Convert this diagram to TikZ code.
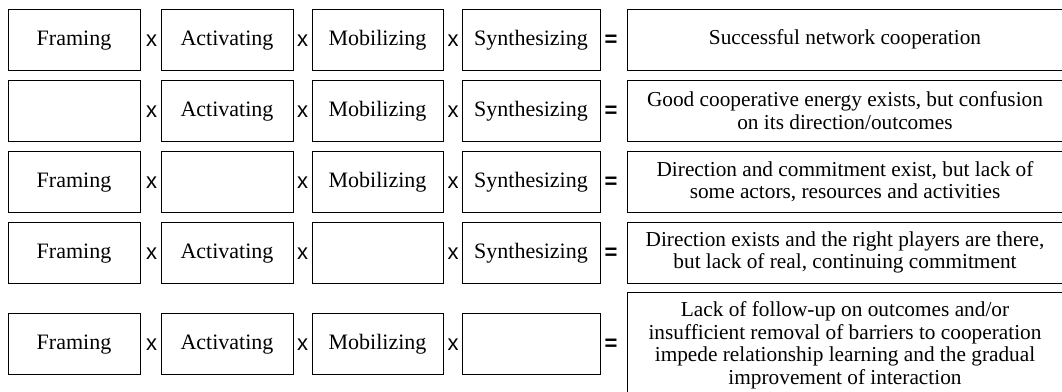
\documentclass[tikz,border=0pt]{standalone}
\usepackage{fontspec}
\setmainfont{Liberation Serif}
\newfontfamily\symfont{Liberation Sans}
\begin{document}
\begin{tikzpicture}[x=1pt,y=-1pt,
  every node/.style={inner sep=0pt, outer sep=0pt},
  factor/.style={draw=black, line width=1pt, minimum height=61pt,
    text height=15pt, text depth=3pt,
    font=\fontsize{22}{24}\selectfont},
  outcome/.style={draw=black, line width=1pt, minimum width=436pt,
    align=center, font=\fontsize{21.3}{22.5}\selectfont},
  op/.style={anchor=base, font=\symfont\fontsize{22}{24}\selectfont},
  eqsign/.style={op, font=\symfont\bfseries\fontsize{22}{24}\selectfont}]
\useasboundingbox (0,0) rectangle (1062,391);

% column centres and widths of the four factor boxes
\def\colA{74}\def\colB{227}\def\colC{377.5}\def\colD{531}
\def\widA{132pt}\def\widB{132pt}\def\widC{131pt}\def\widD{138pt}

% row 1
\node[factor, minimum width=\widA] (f1) at (\colA,39.5) {Framing};
\node[factor, minimum width=\widB] (a1) at (\colB,39.5) {Activating};
\node[factor, minimum width=\widC] (m1) at (\colC,39.5) {Mobilizing};
\node[factor, minimum width=\widD] (s1) at (\colD,39.5) {Synthesizing};
\node[outcome, minimum height=61pt] (r1) at (845,39.5) {Successful network cooperation};

% row 2
\node[factor, minimum width=\widA] (f2) at (\colA,110.5) {};
\node[factor, minimum width=\widB] (a2) at (\colB,110.5) {Activating};
\node[factor, minimum width=\widC] (m2) at (\colC,110.5) {Mobilizing};
\node[factor, minimum width=\widD] (s2) at (\colD,110.5) {Synthesizing};
\node[outcome, minimum height=61pt] (r2) at (845,110.5) {Good cooperative energy exists, but confusion\\on its direction/outcomes};

% row 3
\node[factor, minimum width=\widA] (f3) at (\colA,181.5) {Framing};
\node[factor, minimum width=\widB] (a3) at (\colB,181.5) {};
\node[factor, minimum width=\widC] (m3) at (\colC,181.5) {Mobilizing};
\node[factor, minimum width=\widD] (s3) at (\colD,181.5) {Synthesizing};
\node[outcome, minimum height=61pt] (r3) at (845,181.5) {Direction and commitment exist, but lack of\\some actors, resources and activities};

% row 4
\node[factor, minimum width=\widA] (f4) at (\colA,252.5) {Framing};
\node[factor, minimum width=\widB] (a4) at (\colB,252.5) {Activating};
\node[factor, minimum width=\widC] (m4) at (\colC,252.5) {};
\node[factor, minimum width=\widD] (s4) at (\colD,252.5) {Synthesizing};
\node[outcome, minimum height=61pt] (r4) at (845,252.5) {Direction exists and the right players are there,\\but lack of real, continuing commitment};

% row 5 (the outcome box runs past the lower edge)
\node[factor, minimum width=\widA] (f5) at (\colA,343.5) {Framing};
\node[factor, minimum width=\widB] (a5) at (\colB,343.5) {Activating};
\node[factor, minimum width=\widC] (m5) at (\colC,343.5) {Mobilizing};
\node[factor, minimum width=\widD] (s5) at (\colD,343.5) {};
\node[outcome, minimum height=106pt] (r5) at (845,345.5) {Lack of follow-up on outcomes and/or\\insufficient removal of barriers to cooperation\\impede relationship learning and the gradual\\improvement of interaction};

% multiplication and equality signs
\foreach \r/\y in {1/39.5,2/110.5,3/181.5,4/252.5,5/343.5}{
  \node[op] (xa\r) at (151.5,\y+7) {x};
  \node[op] (xb\r) at (302.5,\y+7) {x};
  \node[op] (xc\r) at (453,\y+7) {x};
  \node[eqsign] (eq\r) at (611,\y+6.5) {=};
}
\end{tikzpicture}
\end{document}
